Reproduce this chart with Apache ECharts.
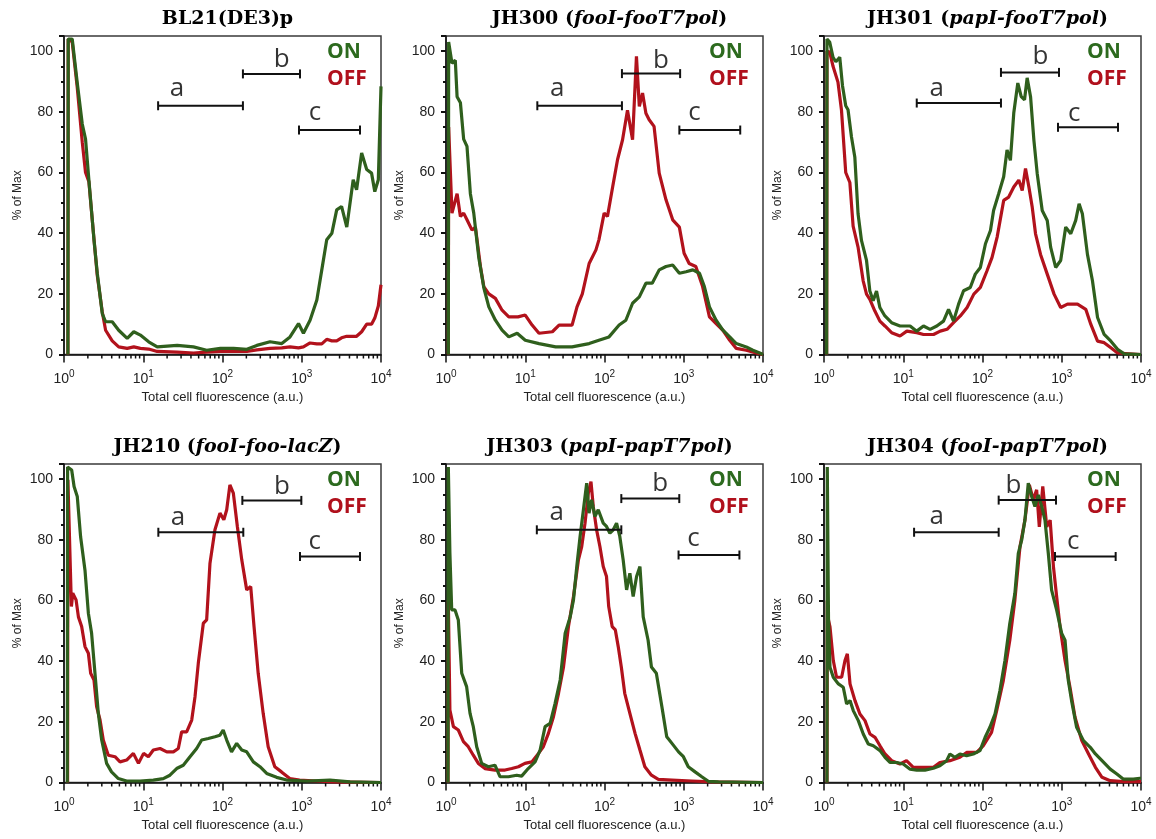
<!DOCTYPE html>
<html>
<head>
<meta charset="utf-8">
<script src="https://cdn.jsdelivr.net/npm/echarts@6/dist/echarts.min.js"></script>
<style>
html, body { margin: 0; padding: 0; background: #fff; }
#chart { width: 1156px; height: 839px; }
</style>
</head>
<body>
<div id="chart"></div>
<script>
// 标题
var titleMain = ['BL21(DE3)p', 'JH300', 'JH301', 'JH210', 'JH303', 'JH304'];
var titleGene = ['', 'fooI-fooT7pol', 'papI-fooT7pol', 'fooI-foo-lacZ', 'papI-papT7pol', 'fooI-papT7pol'];

// 直方图数据 [荧光值, % of Max]
var bl21On = [[1.12,0],[1.13,104],[1.27,104],[1.47,89.5],[1.7,76],[1.87,71],[2.06,57.6],[2.39,37.8],[2.63,26.8],[3.04,13.5],[3.35,10.8],[4.06,10.8],[4.9,8],[6.27,5.3],[7.6,7.5],[9.2,6.4],[11.7,4.2],[15,2.5],[26.8,3],[43,2.5],[63,1.4],[94,2],[138,2],[203,1.7],[271,3],[398,4.2],[560,3.6],[711,5.8],[910,10.2],[1050,7],[1273,11.3],[1550,18],[1790,27.9],[2066,37.8],[2400,40],[2760,47.7],[3180,48.8],[3700,42],[4460,57.6],[4920,54.3],[5700,66.4],[6600,61],[7600,59.8],[8350,53.7],[9250,57.6],[10000,88.4]];
var bl21Off = [[1.12,0],[1.13,104],[1.27,103],[1.47,88],[1.7,70],[1.87,60],[2.06,57],[2.39,38],[2.63,26],[3.04,14],[3.35,8],[4.06,4.5],[4.9,2.5],[6.27,2],[7.6,2.5],[9.2,2],[11.7,1.8],[15,1],[26.8,0.8],[43,0.5],[63,0.8],[94,1],[138,1],[203,1],[271,1.5],[398,2],[560,2.2],[711,2.5],[910,2.2],[1050,2.5],[1273,3.8],[1550,3.5],[1790,3.5],[2066,5],[2400,4.5],[2760,4.5],[3180,5.5],[3700,6],[4460,6],[4920,6],[5700,7.5],[6600,10],[7600,10],[8350,12],[9250,16],[10000,23]];

var jh300On = [[1.07,0],[1.08,103],[1.19,96],[1.31,97],[1.38,85],[1.52,83],[1.67,71],[1.84,68.6],[2.03,53],[2.24,46.6],[2.59,32],[3.0,22],[3.47,15.7],[4.2,11.3],[5.1,8],[6.2,5.8],[7.9,7],[10,4.7],[14.9,3.6],[24.2,2.5],[39,2.5],[64,3.6],[85,4.7],[114,5.8],[153,9.7],[186,11.3],[226,16.9],[275,19],[333,23.5],[400,23.5],[490,27.9],[597,29],[725,29.5],[880,26.8],[1070,27.3],[1300,27.9],[1580,26.8],[1820,22.4],[2110,15.7],[2560,11.3],[3120,8],[3800,5.8],[4600,3.6],[6150,2.5],[7450,1.4],[9100,0.5],[10000,0]];
var jh300Off = [[1.07,0],[1.08,75],[1.19,46.6],[1.25,46],[1.38,53],[1.52,45.5],[1.67,46.6],[1.84,44.4],[2.13,41],[2.35,42],[2.72,29],[3.0,22.4],[3.47,20],[4.2,18.5],[5.1,14.6],[6.2,12.4],[8.1,12.4],[10,13],[12.2,9.7],[14.9,7],[22,7.5],[26.7,9.7],[39,9.7],[45,15.7],[52.5,20],[64,30],[78,34.5],[85,37.8],[99,46.6],[109,45.5],[127,55.4],[146,64.2],[169,70.8],[195,80.5],[226,70.8],[253,98.3],[275,81.8],[302,86.2],[333,79.5],[366,77.4],[422,75.2],[490,59.8],[597,51],[725,44.4],[880,42],[1010,33.4],[1170,30],[1420,29],[1730,22.4],[2110,12.4],[2560,10.2],[3120,8],[3800,4.7],[4600,2],[6150,1.4],[8200,0.5],[10000,0]];

var jh301On = [[1.08,0],[1.09,104],[1.18,103],[1.3,98],[1.41,96.5],[1.58,98],[1.71,88.7],[1.88,82],[2.01,80.7],[2.22,71.8],[2.45,65],[2.69,46.4],[2.97,37.6],[3.44,31],[3.79,20.9],[4.17,17.7],[4.6,20.9],[5.07,15.5],[5.87,12.7],[7.13,10.5],[9.1,9.4],[12.2,9.4],[14.8,7.7],[18,9.4],[21.8,8.3],[26.5,9.4],[32.2,11],[37.3,14.9],[43.1,11],[49.9,16.6],[57.7,21],[70.1,22.1],[81.1,26.5],[94,28.7],[109,36.5],[126,40.9],[138,47.5],[160,53],[185,58.6],[204,67.4],[225,64],[248,79.6],[279,89.5],[308,85],[339,84],[366,91.2],[404,85],[445,70.7],[490,59.7],[567,47.5],[656,44.2],[724,35.4],[838,28.7],[969,31],[1122,42],[1298,39.8],[1500,44.2],[1655,49.7],[1820,46.4],[2110,33],[2440,24.3],[2830,12.2],[3430,6.6],[4170,4.4],[5060,1.7],[6150,0.2],[10000,0]];
var jh301Off = [[1.08,0],[1.09,100],[1.18,99.7],[1.3,95],[1.5,89.8],[1.66,80.7],[1.88,60],[2.12,56.7],[2.33,42.3],[2.69,35.4],[3.12,24.3],[3.44,19.9],[3.79,18.2],[4.37,14.4],[5.07,11],[5.87,9.4],[7.13,7.2],[9.1,6.1],[11.1,7.7],[14.8,7.2],[18,6.6],[24.1,6.6],[29.3,7.7],[35.7,8.3],[43.1,10.5],[52.5,12.7],[63.9,15.5],[77.7,19.9],[94,22.1],[114,27.6],[132,32],[153,38.7],[185,50.8],[214,51.9],[248,55.2],[287,57.5],[317,54.1],[349,61.3],[385,55.2],[424,48.6],[467,39.8],[540,33],[656,26.5],[800,19.9],[969,15.5],[1180,16.6],[1580,16.6],[2010,14.9],[2330,9.9],[2830,4.4],[3430,3.9],[4170,2.2],[5060,0.5],[10000,0]];

var jh210On = [[1.1,0],[1.11,104],[1.25,103],[1.34,97.6],[1.47,94.3],[1.62,81],[1.84,70],[2.03,55.8],[2.23,49.2],[2.46,36],[2.71,22.8],[2.99,14],[3.45,6.3],[3.98,3.5],[4.85,1.3],[6.17,0.5],[9.1,0.5],[13.4,0.8],[17.9,1.3],[21.7,2.4],[26.4,4.6],[32,5.7],[38.9,8.5],[47.2,11.2],[54.6,14],[66.2,14.5],[80.3,15.1],[92.9,15.6],[102,17.3],[113,14],[130,10.1],[151,12.9],[175,10.7],[202,10.1],[245,6.8],[297,5.2],[361,3],[482,1.7],[645,0.8],[1175,0.5],[2270,0.8],[4070,0.2],[10000,0]];
var jh210Off = [[1.11,0],[1.12,99.8],[1.24,58],[1.29,62.4],[1.42,60.2],[1.52,54.6],[1.67,51.4],[1.84,44.8],[2.03,42.6],[2.17,36],[2.39,33.8],[2.58,25],[2.85,20.6],[3.13,14],[3.62,9],[4.4,8.5],[5.09,6.8],[6.17,7.4],[7.5,9.6],[8.7,6.3],[10.1,9.6],[11.6,8.5],[13.4,10.7],[16.3,11.2],[19.8,10.1],[24,10.1],[27.7,11.2],[30.5,16.7],[35.3,16.7],[40.9,20.6],[45,28.3],[49.5,39.3],[57.3,52.5],[63.1,53.6],[69.5,72.3],[80.3,83.3],[92.9,88.8],[104,86.6],[113,89.9],[124,98.1],[137,95.4],[154,84.4],[175,73.4],[202,63.5],[227,64.6],[250,51.4],[282,36],[326,22.8],[377,11.8],[457,5.2],[555,3.5],[706,1.3],[940,0.8],[1530,0.5],[2490,0.2],[10000,0]];

var jh303On = [[1.06,0],[1.07,104],[1.12,75.6],[1.18,56.9],[1.3,56.9],[1.43,53.6],[1.58,36],[1.82,31.6],[2.01,22.8],[2.21,18.4],[2.44,11.8],[2.82,6.3],[3.42,5.2],[4.15,5.7],[4.8,1.9],[6.13,1.9],[7.8,2.4],[9,2.1],[10.9,4.6],[13.3,6.8],[15.4,10.7],[17.8,18.4],[20.6,19.5],[23.8,26.1],[27.6,33.8],[31.9,49.2],[36.9,54.6],[40.6,60.2],[44.7,71.2],[49.2,81.1],[54.2,89.9],[59.6,98.7],[63.8,88.8],[68.8,93.2],[75.7,87.7],[83.4,89.9],[96.4,85.5],[106,84.4],[117,82.2],[129,83.3],[142,85.5],[156,81.1],[172,73.4],[190,63.5],[209,69],[230,61.3],[254,67.9],[280,71.2],[308,54.6],[355,46.9],[391,38.1],[451,36],[530,25],[610,15.1],[710,12.9],[860,10.1],[990,8.5],[1140,5.2],[1390,3.5],[1690,1.9],[2040,0.4],[2750,0.2],[10000,0]];
var jh303Off = [[1.06,0],[1.07,60],[1.12,23.9],[1.24,18.4],[1.43,17.3],[1.66,13.5],[1.91,11.8],[2.21,9],[2.56,6.3],[3.1,4.6],[4.15,4.1],[5.56,4.1],[6.75,4.6],[8.2,5.2],[9.9,6.3],[12.1,6.8],[14.7,9.6],[16.9,11.8],[19.6,16.2],[22.7,21.7],[26.3,29.4],[30.4,38.1],[35.1,51.4],[40.6,61.3],[46.9,73.4],[51.6,77.8],[56.8,85.5],[62.5,95.4],[67.5,99.2],[72.2,90.9],[79.5,83.3],[87.5,77.8],[96.4,71.2],[106,67.9],[113,58],[125,51.4],[137,50.3],[149,44.8],[163,38.1],[180,29.4],[209,22.8],[243,16.2],[280,10.7],[323,5.2],[391,2.4],[478,1],[710,0.8],[1270,0.5],[2270,0.2],[10000,0]];

var jh304On = [[1.09,0],[1.1,104],[1.14,53.5],[1.19,38],[1.31,34.7],[1.52,32.5],[1.75,31.4],[1.93,25.9],[2.13,27],[2.34,23.7],[2.71,20.4],[3.13,16],[3.62,12.7],[4.19,12.1],[5.09,10.5],[5.89,8.3],[6.8,6.6],[8.27,6.6],[10,6.1],[12.2,4.4],[14.8,4.1],[18.8,4.1],[24,4.7],[29,5.5],[35.3,7.2],[38.8,9.4],[44.8,8.3],[51.9,9.4],[63,8.8],[76.6,9.4],[93,10.5],[108,14.9],[124,18.2],[144,22.6],[166,30.3],[192,40.2],[221,52.4],[256,62.3],[283,75.5],[312,79.9],[343,86.5],[378,98.7],[417,94.3],[459,91],[506,94.8],[559,91],[614,86.5],[677,75.5],[745,63.4],[863,56.8],[999,49.1],[1100,46.9],[1210,33.6],[1330,27],[1540,18.2],[1880,13.8],[2290,11.6],[2660,9.4],[3220,7.2],[4090,4.4],[4960,2.8],[6020,1.1],[8000,1.1],[9700,1.4],[10000,1.4]];
var jh304Off = [[1.09,0],[1.1,60],[1.14,53.5],[1.19,51.3],[1.31,40.2],[1.44,34.7],[1.67,34.7],[1.84,40.2],[1.97,42.4],[2.13,32.5],[2.46,27],[2.84,22.6],[3.29,20.4],[3.8,16],[4.4,14.9],[5.09,12.1],[5.89,9.4],[7.14,7.2],[9.1,6.1],[11,7.2],[13.4,5],[17.9,5],[24,5],[29,6.6],[38.8,7.2],[51.9,8.3],[63,9.9],[84.3,9.9],[102,12.1],[130,16.5],[151,23.7],[183,33.6],[221,46.9],[256,60.1],[297,77.7],[343,86.5],[390,98.1],[438,93.2],[482,96.5],[521,84.3],[576,97.6],[647,84.3],[714,86.5],[786,71.1],[863,61.2],[952,51.3],[1100,40.2],[1270,31.4],[1470,21.5],[1790,13.8],[2180,9.4],[2660,5],[3220,1.7],[4090,0.6],[6020,0.3],[9700,0.3],[10000,0.3]];

var onData = [bl21On, jh300On, jh301On, jh210On, jh303On, jh304On];
var offData = [bl21Off, jh300Off, jh301Off, jh210Off, jh303Off, jh304Off];

// 门控 a b c: [起点, 终点, 高度]
var gates = [
    [[15.4,181,82],[181,951,92.5],[923,5430,74]],
    [[14.2,166,82],[166,900,92.6],[880,5160,74]],
    [[14.8,171,82.9],[171,923,93],[897,5130,74.9]],
    [[15.5,183,82.5],[178,988,93],[950,5430,74.5]],
    [[14,163,83.3],[163,878,93.6],[860,5040,75]],
    [[13.7,160,82.5],[160,846,93.1],[822,4790,74.5]]
];
var gateLetters = ['a', 'b', 'c'];
// 字母位置 [x, y]
var letterPos = [
    [[26.7,87.5],[560,97.3],[1470,79.6]],
    [[25.4,87.5],[517,97],[1365,79.6]],
    [[26.5,87.8],[540,98.2],[1440,79.5]],
    [[27.4,87.4],[563,97.6],[1455,79.5]],
    [[25,88.9],[505,98.5],[1330,80.5]],
    [[26.4,87.7],[245,97.8],[1400,79.5]]
];

var sup = ['0', '1', '2', '3', '4'];

var GREEN = '#2f5f1d';
var RED = '#b2121c';

var lefts = [64, 446, 824, 64, 446, 824];
var tops = [36, 36, 36, 464, 464, 464];
var W = 317, H = 318.5;

// 次刻度 (2..9 x 10^k)
var minorVals = [];
for (var k = 0; k < 4; k++) {
    for (var m = 2; m < 10; m++) minorVals.push([m * Math.pow(10, k)]);
}

var chart = echarts.init(document.getElementById('chart'));
var grid = [], xAxis = [], yAxis = [], series = [], title = [], graphic = [];

for (var i = 0; i < 6; i++) {
    grid.push({
        left: lefts[i], top: tops[i], width: W, height: H,
        show: true, borderColor: '#3a3a3a', borderWidth: 1.5
    });
    title.push({
        text: titleGene[i] ? '{b|' + titleMain[i] + ' (}{i|' + titleGene[i] + '}{b|)}' : '{b|' + titleMain[i] + '}',
        left: lefts[i] + W / 2,
        textAlign: 'center',
        top: tops[i] - 31,
        textStyle: {
            rich: {
                b: { fontFamily: 'DejaVu Serif', fontWeight: 'bold', fontSize: 19, color: '#000' },
                i: { fontFamily: 'DejaVu Serif', fontWeight: 'bold', fontStyle: 'italic', fontSize: 19, color: '#000' }
            }
        }
    });
    xAxis.push({
        gridIndex: i, type: 'log', logBase: 10, min: 1, max: 10000,
        name: 'Total cell fluorescence (a.u.)', nameLocation: 'middle', nameGap: 36,
        nameTextStyle: { fontFamily: 'Liberation Sans', fontSize: 13, color: '#222' },
        axisLine: { lineStyle: { color: '#111', width: 1.5 } },
        axisTick: { length: 8, lineStyle: { color: '#111', width: 1.5 } },
        splitLine: { show: false },
        axisLabel: {
            margin: 15,
            showMinLabel: true, showMaxLabel: true,
            formatter: function (v) {
                var e = Math.round(Math.log(v) / Math.LN10);
                return '{b|10}{s|' + sup[e] + '}';
            },
            rich: {
                b: { fontFamily: 'Liberation Sans', fontSize: 14, color: '#222', verticalAlign: 'bottom' },
                s: { fontFamily: 'Liberation Sans', fontSize: 10, color: '#222', verticalAlign: 'bottom', padding: [0, 0, 7, 0] }
            }
        }
    });
    yAxis.push({
        gridIndex: i, type: 'value', min: 0, max: 105, interval: 20,
        name: '% of Max', nameLocation: 'middle', nameGap: 40,
        nameTextStyle: { fontFamily: 'Liberation Sans', fontSize: 12, color: '#222' },
        axisLine: { show: true, lineStyle: { color: '#111', width: 1.5 } },
        axisTick: { show: true, length: 5, lineStyle: { color: '#111', width: 2 } },
        minorTick: { show: true, splitNumber: 4, length: 3, lineStyle: { color: '#111', width: 2 } },
        splitLine: { show: false },
        axisLabel: { fontFamily: 'Liberation Sans', fontSize: 14, color: '#222', margin: 11, showMaxLabel: false }
    });

    // 次刻度
    series.push({
        type: 'custom', xAxisIndex: i, yAxisIndex: i, clip: false, silent: true,
        data: minorVals,
        renderItem: function (params, api) {
            var p = api.coord([api.value(0), 0]);
            return {
                type: 'line',
                shape: { x1: p[0], y1: p[1], x2: p[0], y2: p[1] + 4 },
                style: { stroke: '#111', lineWidth: 1.5 }
            };
        }
    });

    series.push({
        name: 'OFF', type: 'line', xAxisIndex: i, yAxisIndex: i,
        data: offData[i], showSymbol: false, symbol: 'none',
        lineStyle: { color: RED, width: 3.2 }, z: 3
    });
    series.push({
        name: 'ON', type: 'line', xAxisIndex: i, yAxisIndex: i,
        data: onData[i], showSymbol: false, symbol: 'none',
        lineStyle: { color: GREEN, width: 3.2 }, z: 4
    });

    // 门控线
    gates[i].forEach(function (g) {
        series.push({
            type: 'line', xAxisIndex: i, yAxisIndex: i, z: 6, silent: true,
            data: [[g[0], g[2]], [g[1], g[2]]],
            symbol: 'rect', symbolSize: [2, 9], showSymbol: true,
            itemStyle: { color: '#111' },
            lineStyle: { color: '#111', width: 2 }
        });
    });
    series.push({
        type: 'scatter', xAxisIndex: i, yAxisIndex: i, z: 7, silent: true,
        symbolSize: 0,
        data: letterPos[i].map(function (p, j) { return [p[0], p[1], gateLetters[j]]; }),
        label: {
            show: true, position: 'inside',
            formatter: function (p) { return p.data[2]; },
            fontFamily: 'Open Sans', fontSize: 26, color: '#000'
        }
    });

    graphic.push({
        type: 'text', left: lefts[i] + W - 54, top: tops[i] + 6,
        style: { text: 'ON', font: 'bold 21px "Open Sans"', fill: '#2c6a1e' }
    });
    graphic.push({
        type: 'text', left: lefts[i] + W - 54, top: tops[i] + 33,
        style: { text: 'OFF', font: 'bold 21px "Open Sans"', fill: '#b0101c' }
    });
}

chart.setOption({
    animation: false,
    backgroundColor: '#fff',
    title: title,
    grid: grid,
    xAxis: xAxis,
    yAxis: yAxis,
    series: series,
    graphic: graphic
});
</script>
</body>
</html>
